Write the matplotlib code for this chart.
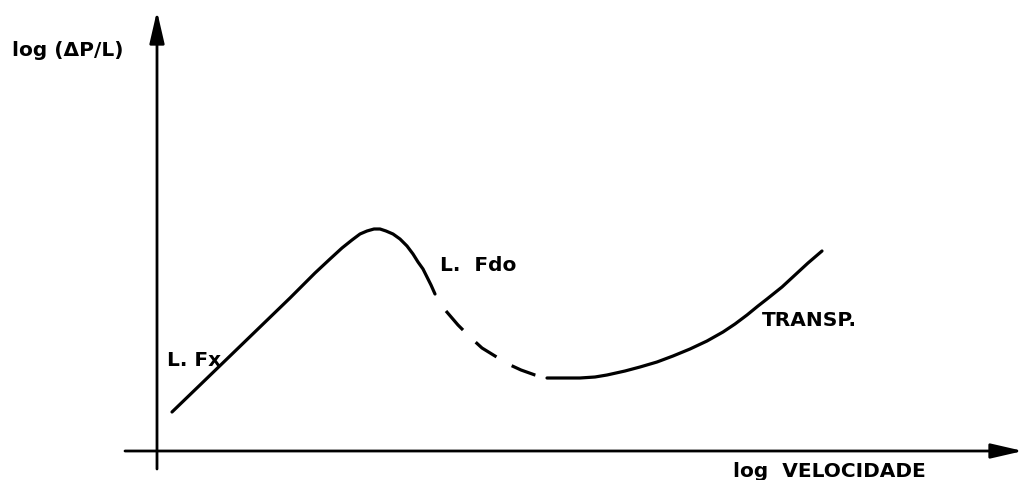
import matplotlib.pyplot as plt

# curva (coordenadas em pixels da imagem)
rise_x = [172, 200, 230, 260, 290, 315, 330, 342, 352, 360, 367, 374, 380, 386, 393, 400, 407, 413, 418, 423, 427, 431, 435]
rise_y = [413, 386, 357, 328, 299, 274, 260, 249, 241, 235, 232, 230, 230, 232, 235, 240, 247, 255, 263, 270, 278, 286, 295]

dash_x = [446, 458, 470, 482, 495, 508, 521, 535, 547]
dash_y = [312, 326, 338, 349, 357, 365, 371, 376, 379]

transp_x = [547, 565, 580, 595, 607, 625, 640, 657, 673, 690, 707, 723, 735, 747, 758, 767, 782, 795, 808, 822]
transp_y = [379, 379, 379, 378, 376, 372, 368, 363, 357, 350, 342, 333, 325, 316, 307, 300, 288, 276, 264, 252]

labels = ["log (ΔP/L)", "L. Fx", "L.  Fdo", "TRANSP.", "log  VELOCIDADE"]
label_xy = [(12, 50), (167, 361), (440, 266), (762, 321), (733, 472)]

fig = plt.figure(figsize=(10.24, 4.81), dpi=100)
ax = fig.add_axes([0, 0, 1, 1])
ax.set_xlim(0, 1024)
ax.set_ylim(481, 0)
ax.axis('off')

# eixos com seta
arrow = dict(arrowstyle='-|>,head_length=1.3,head_width=0.3', lw=2, color='black',
             mutation_scale=15, shrinkA=0, shrinkB=0)
ax.annotate('', xy=(157, 12), xytext=(157, 470), arrowprops=arrow)
ax.annotate('', xy=(1023, 452), xytext=(125, 452), arrowprops=arrow)

ax.plot(rise_x, rise_y, color='black', lw=2.3, solid_capstyle='round', solid_joinstyle='round')
ax.plot(dash_x, dash_y, color='black', lw=2.3, dashes=(8, 5.5))
ax.plot(transp_x, transp_y, color='black', lw=2.3, solid_capstyle='round', solid_joinstyle='round')

for txt, (x, y) in zip(labels, label_xy):
    ax.text(x, y, txt, fontsize=14.5, fontweight='bold', family='DejaVu Sans',
            ha='left', va='center', color='black')

fig.savefig('out.png', dpi=100, facecolor='white')
